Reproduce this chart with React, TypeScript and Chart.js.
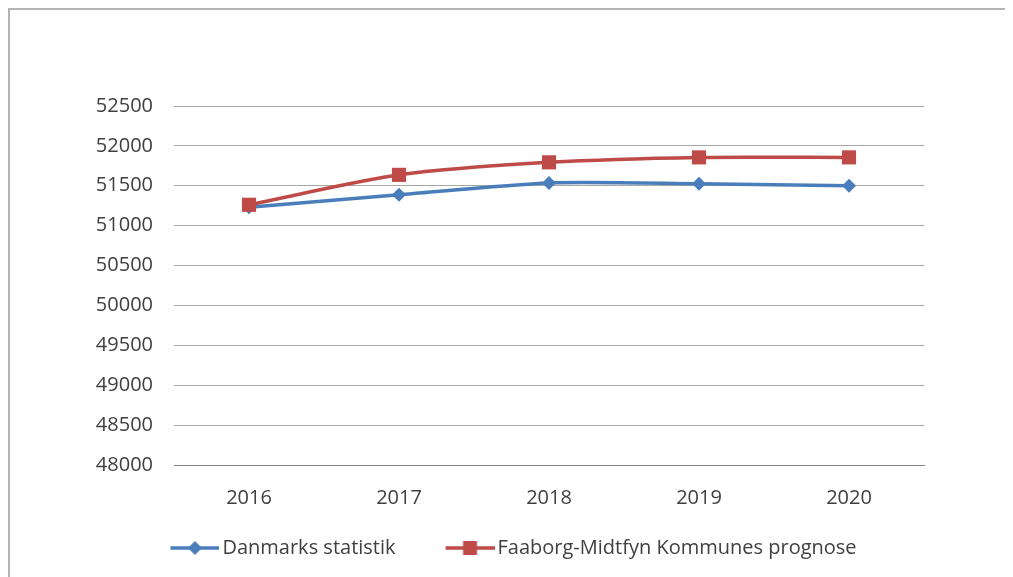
import { useEffect, useRef } from "react";
import { Chart, registerables } from "chart.js";

Chart.register(...registerables);

const categories = ["2016", "2017", "2018", "2019", "2020"];
const danmarksStatistik = [51230, 51387, 51535, 51525, 51500];
const faaborgPrognose = [51262, 51637, 51794, 51856, 51856];
const yTicks = [48000, 48500, 49000, 49500, 50000, 50500, 51000, 51500, 52000, 52500];
const seriesNames = ["Danmarks statistik", "Faaborg-Midtfyn Kommunes prognose"];

const BLUE = "#4a7ebb";
const RED = "#be4b48";
const FONT = "'Open Sans', sans-serif";
const TEXT = "#404040";

// legend glyph: a line with the series marker, drawn in the right half of a
// transparent image that Chart.js centres on the legend box
function legendGlyph(color: string, kind: "diamond" | "square") {
  const c = document.createElement("canvas");
  c.width = 96;
  c.height = 22;
  const ctx = c.getContext("2d")!;
  const x0 = 47;
  const x1 = 96;
  const cx = (x0 + x1) / 2;
  ctx.strokeStyle = color;
  ctx.lineWidth = 3.5;
  ctx.beginPath();
  ctx.moveTo(x0, 11);
  ctx.lineTo(x1, 11);
  ctx.stroke();
  ctx.fillStyle = color;
  ctx.beginPath();
  if (kind === "diamond") {
    ctx.moveTo(cx, 4);
    ctx.lineTo(cx + 7, 11);
    ctx.lineTo(cx, 18);
    ctx.lineTo(cx - 7, 11);
    ctx.closePath();
    ctx.fill();
  } else {
    ctx.fillRect(cx - 7, 4, 14, 14);
  }
  return c;
}

export default function App() {
  const ref = useRef<HTMLCanvasElement | null>(null);

  useEffect(() => {
    document.documentElement.style.overflow = "hidden";
    document.body.style.overflow = "hidden";
    const canvas = ref.current;
    if (!canvas) return;
    const glyphs = [legendGlyph(BLUE, "diamond"), legendGlyph(RED, "square")];
    const chart = new Chart(canvas, {
      type: "line",
      data: {
        labels: categories,
        datasets: [
          {
            label: seriesNames[0],
            data: danmarksStatistik,
            borderColor: BLUE,
            backgroundColor: BLUE,
            borderWidth: 3.5,
            tension: 0.25,
            pointStyle: "rectRot",
            pointRadius: 7,
            pointBorderWidth: 0,
            pointBackgroundColor: BLUE,
            order: 1,
          },
          {
            label: seriesNames[1],
            data: faaborgPrognose,
            borderColor: RED,
            backgroundColor: RED,
            borderWidth: 3.5,
            tension: 0.25,
            pointStyle: "rect",
            pointRadius: 10,
            pointBorderWidth: 0,
            pointBackgroundColor: RED,
            order: 0,
          },
        ],
      },
      options: {
        responsive: false,
        animation: false,
        devicePixelRatio: 1,
        layout: { padding: { left: 53, right: 89, top: 96, bottom: 9 } },
        plugins: {
          tooltip: { enabled: false },
          legend: {
            position: "bottom",
            labels: {
              usePointStyle: true,
              pointStyleWidth: 82,
              padding: 10,
              color: TEXT,
              font: { family: FONT, size: 20 },
              generateLabels: () =>
                seriesNames.map((name, i) => ({
                  text: name,
                  pointStyle: glyphs[i],
                  fillStyle: i === 0 ? BLUE : RED,
                  strokeStyle: i === 0 ? BLUE : RED,
                  lineWidth: 0,
                  datasetIndex: i,
                  hidden: false,
                  fontColor: TEXT,
                })),
            },
          },
        },
        scales: {
          x: {
            type: "category",
            offset: true,
            grid: { display: false },
            border: { display: true, color: "#868686", width: 1 },
            ticks: { color: TEXT, padding: 13, font: { family: FONT, size: 20 } },
            afterFit: (s: any) => {
              s.height = 63;
            },
          },
          y: {
            min: yTicks[0],
            max: yTicks[yTicks.length - 1],
            grid: { color: "#a6a6a6", lineWidth: 1, drawTicks: false },
            border: { display: false },
            ticks: {
              color: TEXT,
              padding: 21,
              font: { family: FONT, size: 20 },
              callback: (v: any) => String(v),
            },
            afterBuildTicks: (s: any) => {
              s.ticks = yTicks.map((v) => ({ value: v }));
            },
            afterFit: (s: any) => {
              s.width = 111;
            },
          },
        },
      },
    } as any);
    return () => chart.destroy();
  }, []);

  return (
    <div
      style={{
        position: "relative",
        width: 1005,
        height: 569,
        boxSizing: "border-box",
        borderTop: "2px solid #b4b4b4",
        borderLeft: "2px solid #b4b4b4",
      }}
    >
      <canvas ref={ref} width={1003} height={567} style={{ display: "block", width: 1003, height: 567 }} />
    </div>
  );
}
